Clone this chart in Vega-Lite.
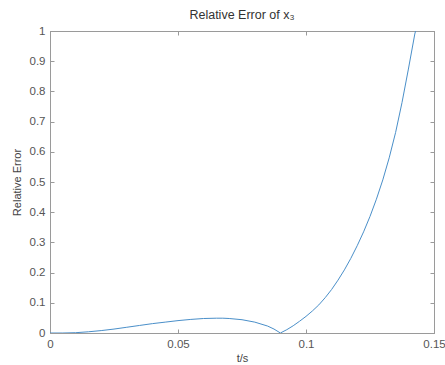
{
  "$schema": "https://vega.github.io/schema/vega-lite/v6.json",
  "width": 384,
  "height": 302,
  "autosize": {"type": "none"},
  "padding": {"left": 50, "top": 31, "right": 11, "bottom": 32},
  "background": "white",
  "title": {"text": "Relative Error of x₃", "font": "Liberation Sans", "fontSize": 12.5, "fontWeight": "normal", "color": "#333333", "offset": 4},
  "config": {
    "view": {"stroke": "#9a9a9a", "strokeWidth": 1},
    "axis": {"grid": false, "domainColor": "#9a9a9a", "tickColor": "#9a9a9a", "tickSize": -4, "labelFlush": false, "labelFont": "Liberation Sans", "labelFontSize": 11.5, "labelColor": "#555555", "titleFont": "Liberation Sans", "titleFontSize": 11, "titleFontWeight": "normal", "titleColor": "#444444"}
  },
  "data": {"values": [
    {"t": 0, "e": 0}, {"t": 0.005, "e": 0}, {"t": 0.01, "e": 0.001}, {"t": 0.015, "e": 0.004},
    {"t": 0.02, "e": 0.008}, {"t": 0.025, "e": 0.013}, {"t": 0.03, "e": 0.019}, {"t": 0.035, "e": 0.025},
    {"t": 0.04, "e": 0.031}, {"t": 0.045, "e": 0.036}, {"t": 0.05, "e": 0.041}, {"t": 0.055, "e": 0.045},
    {"t": 0.06, "e": 0.048}, {"t": 0.065, "e": 0.049}, {"t": 0.0675, "e": 0.049}, {"t": 0.07, "e": 0.048},
    {"t": 0.075, "e": 0.044}, {"t": 0.08, "e": 0.036}, {"t": 0.085, "e": 0.023}, {"t": 0.0875, "e": 0.013},
    {"t": 0.09, "e": 0}, {"t": 0.0925, "e": 0.011}, {"t": 0.095, "e": 0.024}, {"t": 0.0975, "e": 0.039},
    {"t": 0.1, "e": 0.055}, {"t": 0.1025, "e": 0.073}, {"t": 0.105, "e": 0.093}, {"t": 0.1075, "e": 0.117},
    {"t": 0.11, "e": 0.144}, {"t": 0.1125, "e": 0.175}, {"t": 0.115, "e": 0.209}, {"t": 0.1175, "e": 0.247},
    {"t": 0.12, "e": 0.289}, {"t": 0.1225, "e": 0.335}, {"t": 0.125, "e": 0.386}, {"t": 0.1275, "e": 0.443},
    {"t": 0.13, "e": 0.507}, {"t": 0.1325, "e": 0.58}, {"t": 0.135, "e": 0.664}, {"t": 0.1375, "e": 0.763},
    {"t": 0.14, "e": 0.874}, {"t": 0.1425, "e": 0.99}, {"t": 0.1428, "e": 1.0}
  ]},
  "layer": [
    {
      "mark": {"type": "line", "color": "#4a8fc9", "strokeWidth": 1, "clip": true},
      "encoding": {
        "x": {"field": "t", "type": "quantitative", "scale": {"domain": [0, 0.15], "nice": false},
              "axis": {"values": [0, 0.05, 0.1, 0.15], "labelExpr": "datum.value == 0 ? '0' : datum.value < 0.07 ? '0.05' : datum.value < 0.12 ? '0.1' : '0.15'", "title": "t/s", "labelPadding": 9, "titlePadding": 3}},
        "y": {"field": "e", "type": "quantitative", "scale": {"domain": [0, 1], "nice": false},
              "axis": {"values": [0, 0.1, 0.2, 0.3, 0.4, 0.5, 0.6, 0.7, 0.8, 0.9, 1], "format": "~g", "title": "Relative Error", "labelPadding": 9, "titlePadding": 7}}
      }
    },
    {
      "mark": {"type": "line", "opacity": 0, "clip": true},
      "encoding": {
        "x": {"field": "t", "type": "quantitative", "scale": {"domain": [0, 0.15], "nice": false},
              "axis": {"orient": "top", "values": [0, 0.05, 0.1, 0.15], "labels": false, "title": null}},
        "y": {"field": "e", "type": "quantitative", "scale": {"domain": [0, 1], "nice": false},
              "axis": {"orient": "right", "values": [0, 0.1, 0.2, 0.3, 0.4, 0.5, 0.6, 0.7, 0.8, 0.9, 1], "labels": false, "title": null}}
      }
    }
  ],
  "resolve": {"axis": {"x": "independent", "y": "independent"}}
}
